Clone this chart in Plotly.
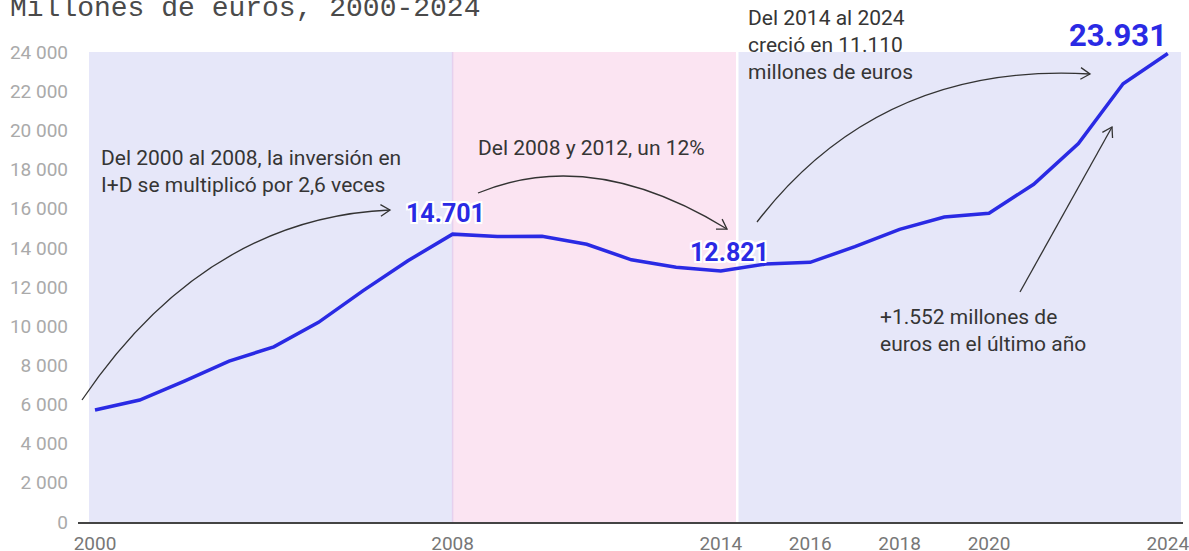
import math
import plotly.graph_objects as go

# ---- data ----
years = list(range(2000, 2025))
inversion = [5719, 6227, 7194, 8213, 8946, 10197, 11815, 13342, 14701, 14582,
             14588, 14184, 13392, 13012, 12821, 13172, 13260, 14063, 14946,
             15572, 15768, 17249, 19325, 22379, 23931]
x_ticks = [2000, 2008, 2014, 2016, 2018, 2020, 2024]
y_ticks = list(range(0, 24001, 2000))
highlight_years = [2008, 2014, 2024]
title_text = "Millones de euros, 2000-2024"

# ---- layout geometry (pixels) ----
W, H = 1189, 551
L, R, T, B = 78, 1183, 30, 522
X0PX, XSTEP = 95.0, 44.7          # pixel of year 2000, pixels per year
YSCALE = 0.01958                  # pixels per euro-million


def dx(px):
    return 2000 + (px - X0PX) / XSTEP


def dy(py):
    return (B - py) / YSCALE


def paperx(px):
    return (px - L) / (R - L)


def papery(py):
    return (B - py) / (B - T)


BLUE = "#2a2ae4"
TXT = "#353535"
ARROW = "#333333"
FONT = "Roboto, Arial, sans-serif"

fig = go.Figure()
fig.add_trace(go.Scatter(x=years, y=inversion, mode="lines",
                         line=dict(color=BLUE, width=3.5),
                         hoverinfo="skip", showlegend=False))

shapes = []
# background bands
shapes.append(dict(type="rect", xref="x", yref="y", x0=dx(89), x1=2008,
                   y0=0, y1=24000, fillcolor="#e6e7f9", line_width=0, layer="below"))
shapes.append(dict(type="rect", xref="x", yref="y", x0=2008, x1=dx(736),
                   y0=0, y1=24000, fillcolor="#fbe4f2", line_width=0, layer="below"))
shapes.append(dict(type="rect", xref="x", yref="y", x0=dx(738.5), x1=dx(1181),
                   y0=0, y1=24000, fillcolor="#e6e7f9", line_width=0, layer="below"))
shapes.append(dict(type="line", xref="x", yref="y", x0=2008, x1=2008,
                   y0=0, y1=24000, line=dict(color="#e6d0ee", width=1.5), layer="below"))


def head(frm, tip, size=11, ang=32):
    ddx, ddy = tip[0] - frm[0], tip[1] - frm[1]
    n = math.hypot(ddx, ddy)
    ux, uy = ddx / n, ddy / n
    pts = []
    for s in (1, -1):
        a = math.radians(ang * s)
        rx = ux * math.cos(a) - uy * math.sin(a)
        ry = ux * math.sin(a) + uy * math.cos(a)
        pts.append((tip[0] - size * rx, tip[1] - size * ry))
    path = "M {},{} L {},{} L {},{}".format(dx(pts[0][0]), dy(pts[0][1]),
                                            dx(tip[0]), dy(tip[1]),
                                            dx(pts[1][0]), dy(pts[1][1]))
    shapes.append(dict(type="path", xref="x", yref="y", path=path,
                       line=dict(color=ARROW, width=1.3)))


def curve(p0, p1, p2):
    path = "M {},{} Q {},{} {},{}".format(dx(p0[0]), dy(p0[1]), dx(p1[0]), dy(p1[1]),
                                          dx(p2[0]), dy(p2[1]))
    shapes.append(dict(type="path", xref="x", yref="y", path=path,
                       line=dict(color=ARROW, width=1.3)))
    head(p1, p2)


curve((82, 400), (205, 218), (390, 210))
curve((478, 193), (592, 146), (727, 229))
curve((757, 222), (880, 62), (1090, 74))
# straight arrow
shapes.append(dict(type="line", xref="x", yref="y", x0=dx(1020), y0=dy(292),
                   x1=dx(1112), y1=dy(127), line=dict(color=ARROW, width=1.3)))
head((1020, 292), (1112, 127))

annotations = []


def note(text, px, py, size=21):
    annotations.append(dict(text=text, xref="paper", yref="paper",
                            x=paperx(px), y=papery(py),
                            xanchor="left", yanchor="middle", showarrow=False,
                            font=dict(family=FONT, size=size, color=TXT)))


note("Del 2000 al 2008, la inversión en", 99, 158)
note("I+D se multiplicó por 2,6 veces", 99, 185)
note("Del 2008 y 2012, un 12%", 476, 148)
note("Del 2014 al 2024", 746, 18)
note("creció en 11.110", 746, 45)
note("millones de euros", 746, 72)
note("+1.552 millones de", 878, 317)
note("euros en el último año", 878, 344)

shadow = ", ".join("{}px {}px 0 white".format(a, b)
                   for a in (-2, 0, 2) for b in (-2, 0, 2) if (a, b) != (0, 0))
lab = {2008: (-7, 21, 25), 2014: (9, 18, 25), 2024: (-50, 18, 31)}
for yr in highlight_years:
    v = inversion[years.index(yr)]
    xs, ys, fs = lab[yr]
    annotations.append(dict(text="<b>{:,}</b>".format(v).replace(",", "."),
                            xref="x", yref="y", x=yr, y=v, xshift=xs, yshift=ys,
                            xanchor="center", yanchor="middle", showarrow=False,
                            font=dict(family=FONT, size=fs, color=BLUE, shadow=shadow)))

# title (partially above the page, as in reference)
annotations.append(dict(text=title_text, xref="paper", yref="paper",
                        x=paperx(8), y=papery(9),
                        xanchor="left", yanchor="middle", showarrow=False,
                        font=dict(family="Courier New, Liberation Mono, monospace",
                                  size=28, color="#4a4a4a")))

fig.update_layout(
    width=W, height=H,
    margin=dict(l=L, r=W - R, t=T, b=H - B, pad=0, autoexpand=False),
    paper_bgcolor="white", plot_bgcolor="white",
    shapes=shapes, annotations=annotations,
    separators=", ",
    showlegend=False,
    xaxis=dict(range=[dx(L), dx(R)], tickvals=x_ticks, ticktext=[str(t) for t in x_ticks],
               showgrid=False, zeroline=False, showline=True, linecolor="#444",
               linewidth=2, ticks="", ticklabelstandoff=3, automargin=False,
               ticklabeloverflow="allow",
               tickfont=dict(family=FONT, size=19, color="#777")),
    yaxis=dict(range=[0, dy(T)], tickvals=y_ticks, separatethousands=True,
               tickformat=",d", automargin=False,
               showgrid=False, zeroline=False, showline=False, ticks="",
               ticklabelstandoff=9,
               tickfont=dict(family=FONT, size=19, color="#aaa")),
)

fig.write_html("out.html", config={"displayModeBar": False},
               post_script="document.body.style.margin='0px';")
